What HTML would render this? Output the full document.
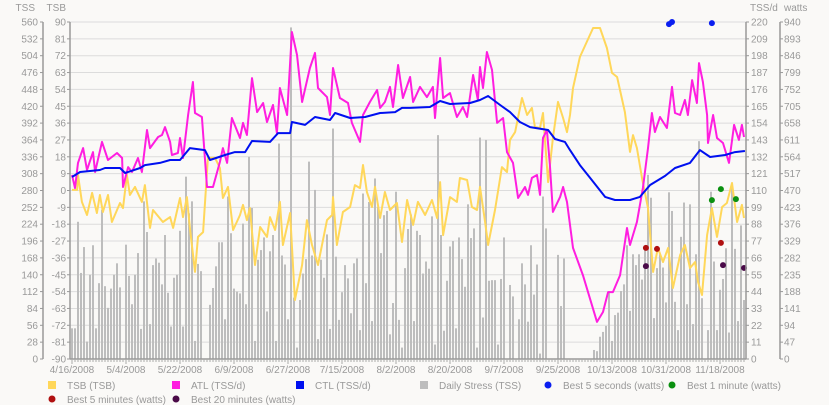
<!DOCTYPE html>
<html><head><meta charset="utf-8"><style>
html,body{margin:0;padding:0;background:#faf9f7;}
svg{display:block;font-family:"Liberation Sans",sans-serif;}
</style></head><body>
<svg id="chart" width="829" height="405">
<g id="grid"></g>
<g id="bars"></g>
<g id="lines"></g>
<g id="dots"></g>
<g id="axes"></g>
<g id="legend"></g>
</svg>
<script>
const dateLabels=["4/16/2008","5/4/2008","5/22/2008","6/9/2008","6/27/2008","7/15/2008","8/2/2008","8/20/2008","9/7/2008","9/25/2008","10/13/2008","10/31/2008","11/18/2008"];
const tssTicks=[0,28,56,84,112,140,168,196,224,252,280,308,336,364,392,420,448,476,504,532,560];
const tsbTicks=[-90,-81,-72,-63,-54,-45,-36,-27,-18,-9,0,9,18,27,36,45,54,63,72,81,90];
const tssdTicks=[0,11,22,33,44,55,66,77,88,99,110,121,132,143,154,165,176,187,198,209,220];
const wattTicks=[0,47,94,141,188,235,282,329,376,423,470,517,564,611,658,705,752,799,846,893,940];
const dailyStress=[51,51,228,143,186,29,140,189,51,126,248,121,85,117,140,159,119,0,190,138,91,140,176,50,262,211,58,156,167,160,124,206,110,54,135,140,213,54,303,242,262,30,158,146,0,0,90,118,154,194,194,66,270,209,117,112,
109,225,91,336,251,30,165,181,202,79,179,206,30,358,172,157,66,551,102,19,98,142,166,328,172,281,33,165,135,207,50,383,170,65,111,156,134,76,159,167,48,275,126,261,63,300,253,176,239,246,41,93,278,65,19,151,216,
240,63,213,206,142,162,150,237,24,372,206,47,130,187,196,51,202,166,120,257,201,217,19,368,69,364,130,131,131,24,133,202,0,123,104,0,66,159,124,62,189,107,157,9,270,217,0,0,0,173,88,167,0,0,0,0,0,0,0,0,0,
15,13,37,45,55,113,30,73,77,113,124,189,80,174,156,174,132,187,306,268,68,151,174,152,94,277,246,95,48,203,260,91,257,58,174,362,101,0,48,278,162,48,115,133,184,44,286,183,63,222,98];
const tsbDays=[0,1.7,2,3.3,5,6.7,8.3,9.3,10.3,12,13.3,16,17,18.3,19.3,21,23.3,24.3,26,27,30.3,32.7,33.7,36,37,38.3,39.3,41,42,43.7,45.3,47.7,49.3,50.3,52,53.7,56,57,58.3,59.3,61,62.7,65,66,67.7,69.3,70.3,72.7,74.3,76.7,78.3,80,82,85,86.7,87,88.3,90.3,92.7,94.3,96,97,98.3,100,101,102.7,104.3,106,108.3,110,111.7,113.7,115.3,117.7,120,121.7,122.7,123.7,126,128.3,129.3,131.7,133.3,135,136,137.7,138.7,141,143.3,145,146,147.7,150,151.7,153.3,154.3,156,157,158.7,160.3,162,163.7,165,166,167,169.3,173.7,176,178.3,180,181.7,184.3,186,187,188.3,190,192,193.7,195.3,197,198.7,200.3,202.7,204.3,206,207.7,208.7,210,211.7,213.3,215,216.7,218.3,220,221.7,223.3,224];
const tsbVals=[0.3,0.3,8.3,-6.1,-13.1,-1.3,-12,-2.4,-11.5,-2.4,-16.8,-6.7,-9.4,8.3,-2.4,1.9,-6.1,2.9,-20,-10.4,-16.8,-14.2,-20,-4,-14.2,-3.5,-20,-43.5,-24.8,-22.2,17.4,17.4,12,-4,1.9,-21.1,-13.1,-7.7,-15.8,-9.4,-39.8,-19.5,-24.8,-14.2,-21.1,-6.1,-29.1,-12,-58.5,-39.8,-15.8,-29.1,-39.8,-15.8,-13.1,-3.5,-29.1,-11.5,-8.8,2.9,1.3,13.6,-0.8,-8.8,1.9,-14.7,-0.8,-10.4,-6.7,-27.5,-5.1,-18.4,-6.1,-13.1,-5.1,-14.7,4.5,-23.8,-3.5,-6.1,6.7,5.6,-8.8,-10.4,1.9,-16.8,-29.1,-10.4,12.5,9.9,27,31.2,49.4,40.3,44.1,33.9,33.4,41.4,4.5,28,47.3,38.7,31.2,40.3,54.7,71.3,86.8,86.8,76.1,62.8,60.6,41.9,20.6,29.6,22.7,6.7,-9.4,-43.5,-30.7,-38.2,-30.7,-52.1,-34.5,-29.1,-41.4,-38.2,-48.9,-55.8,-23.8,-9.4,-24.8,-8.8,-6.7,4,-16.8,-7.7,-14.7];
const atlDays=[0,1,2,3.7,5,7,7.7,10,12,15,16.7,17,18.7,20,22,23.3,25,26,28.7,30,31,32.7,33.3,35.3,36,37,38.7,40.3,41,43.3,45,47,49.3,50.3,51.7,53.3,56,57,58.3,60,61.7,63.7,65,67,68.3,69.3,71.7,73.3,75,76.7,79.3,81,82,85,86,87,89.3,92,93.3,96,97,99.3,101.7,102.7,104.3,106,107,108.7,110.3,112.7,113.7,116,118.3,120.3,121,122.7,123.7,126,128.3,130.3,131.7,133.7,135.3,136,137,138.3,140,141.7,143.7,145,147,148.7,151,152,153.3,155,156,157,158.3,159.3,160.3,162.7,163.7,165,167,170.3,175,177,178.7,180.3,182.7,185,186,188.3,190.3,192,193.3,194.3,196,198.3,200,201,202.7,204.3,205.3,206.7,208.3,209,210.3,211.7,212,213.7,215,217,219,220.7,222.3,223.3,224];
const atlVals=[120.1,111.6,128,137.7,123.4,135.1,122.1,141.7,129.9,134.5,131.2,112.3,125.3,122.1,131.2,122.1,149.5,137.7,144.9,146.2,151.4,141.7,133.2,134.5,144.3,131.2,159.3,180.8,160.6,158,112.3,112.3,128.6,137.7,128,157.3,144.3,154.1,146.2,183.4,161.2,167.1,154.7,165.8,147.5,176.9,159.3,213.5,198.5,167.8,190,199.8,176.9,171,159.3,190,170.4,167.1,154.1,141.7,159.3,167.8,175.6,163.9,167.8,177.6,164.5,191.9,170.4,184.1,167.8,177.6,171,177.6,157.3,196.5,170.4,173.6,158,164.5,158,185.4,169.1,190.6,176.9,200.4,188.7,154.1,157.3,135.1,128,105.1,112.3,107.1,118.2,120.1,107.1,144.3,149.5,126.6,96,105.8,112.3,102.5,72.5,54.8,24.2,30.7,43.7,43.7,54.8,85.5,74.4,89.4,111.6,137.7,160.6,148.2,158,150.8,177.6,160.6,159.3,169.1,159.3,182.1,167.1,193.2,180.8,159.3,141,159.3,144.3,141,128,152.8,143,152.8,144.9];
const ctlDays=[0,2.7,9.3,11,16,17.7,22.7,24.3,29.3,32.7,36,39.3,44.3,46,51,54.3,57.7,60,66,68.7,72.7,73.3,77.7,81,86,87.7,92.7,97.7,102.7,107.7,110,112.7,119.3,122.7,126,132.7,136,138.7,142.7,146,149.3,152.7,158.7,161,164.3,166,169.3,172.7,177.7,181,186,189.3,192.7,197.7,201,206,209.3,212.7,217.7,221,224.3];
const ctlVals=[118.8,122.1,123.4,124.7,124.7,121.4,124.7,126.6,128,129.9,129.9,137.7,136.4,129.9,133.2,135.1,135.1,142.3,141.7,147.5,147.5,154.7,152.8,158,156,160.6,157.3,158,160.6,161.2,163.9,163.9,164.5,168.4,166.5,167.1,169.1,171.7,165.8,161.2,154.7,151.4,149.5,143.6,141.7,136.4,126.6,118.2,105.8,103.8,103.8,105.8,113.6,119.5,124.7,128,136.4,131.9,133.2,135.1,135.8];
const best5sDays=[199,200,213.3], best5sVals=[934,940,937];
const best1mDays=[213.3,216.3,221.3], best1mVals=[443,474,446];
const best5mDays=[191.3,195,216.3], best5mVals=[310,307,324];
const best20mDays=[191.3,217,224], best20mVals=[259,262,254];

const NS="http://www.w3.org/2000/svg";
const X0=72, DX=3, YT=22, YB=359, PL=70, PR=746;
const xs=d=>X0+d*DX;
const yTSS=v=>YB-v/560*(YB-YT);
const yTSB=v=>YB-(v+90)/180*(YB-YT);
const yTSSd=v=>YB-v/220*(YB-YT);
const yW=v=>YB-v/940*(YB-YT);
function mk(tag,attrs,parent){const e=document.createElementNS(NS,tag);for(const k in attrs)e.setAttribute(k,attrs[k]);parent.appendChild(e);return e;}
const G=id=>document.getElementById(id);
const LBL="#999";
// grid
tsbTicks.forEach((t,i)=>{const y=yTSB(t);
 const l=mk('line',{x1:PL,x2:PR,y1:y,y2:y,stroke:'#dcdcdc','stroke-width':1},G('grid'));
 
 });
// bars
dailyStress.forEach((v,d)=>{if(v<=0)return;
 const r=mk('rect',{x:xs(d)-1,y:yTSS(v),width:2,height:YB-yTSS(v),fill:'#bdbdbd'},G('bars'));
 
 });
// lines
function line(days,vals,fy,col,name){const pts=days.map((d,i)=>xs(d).toFixed(1)+','+fy(vals[i]).toFixed(1)).join(' ');
 const p=mk('polyline',{points:pts,fill:'none',stroke:col,'stroke-width':2,'stroke-linejoin':'round'},G('lines'));
 
 }
line(tsbDays,tsbVals,yTSB,'#ffd75a','tsb-line');
line(atlDays,atlVals,yTSSd,'#ff1ee0','atl-line');
line(ctlDays,ctlVals,yTSSd,'#0010f0','ctl-line');
function dots(days,vals,col,name){days.forEach((d,i)=>{const c=mk('circle',{cx:xs(d),cy:yW(vals[i]),r:3,fill:col},G('dots'));
 
 });}
dots(best5sDays,best5sVals,'#0a1ef0','best-5-seconds-dot');
dots(best1mDays,best1mVals,'#0a9010','best-1-minute-dot');
dots(best5mDays,best5mVals,'#b01010','best-5-minutes-dot');
dots(best20mDays,best20mVals,'#4a0a48','best-20-minutes-dot');
// axes
const ax=G('axes');
function txt(x,y,s,anchor,name){const t=mk('text',{x:x,y:y,'font-size':10,fill:LBL,'text-anchor':anchor},ax);t.textContent=s;
 
 return t;}
[[43,'tss'],[PL,'tsb'],[PR,'tss-per-day'],[780,'watts']].forEach(([x,n])=>{const l=mk('line',{x1:x,x2:x,y1:YT,y2:YB,stroke:'#999','stroke-width':1.5},ax);
 
 });
const bl=mk('line',{x1:PL,x2:PR,y1:YB,y2:YB,stroke:'#999','stroke-width':1.5},ax);


tssTicks.forEach(t=>{const y=yTSS(t);mk('line',{x1:40,x2:43,y1:y,y2:y,stroke:'#999'},ax);txt(38,y+3.5,String(t),'end','tss-tick-label');});
tsbTicks.forEach(t=>{const y=yTSB(t);mk('line',{x1:67,x2:70,y1:y,y2:y,stroke:'#999'},ax);txt(66,y+3.5,String(t),'end','tsb-tick-label');});
tssdTicks.forEach(t=>{const y=yTSSd(t);mk('line',{x1:746,x2:749,y1:y,y2:y,stroke:'#999'},ax);txt(751,y+3.5,String(t),'start','tss-per-day-tick-label');});
wattTicks.forEach(t=>{const y=yW(t);mk('line',{x1:780,x2:783,y1:y,y2:y,stroke:'#999'},ax);txt(784,y+3.5,String(t),'start','watts-tick-label');});
for(let d=0;d<=224;d++){const major=d%18===0;mk('line',{x1:xs(d),x2:xs(d),y1:YB,y2:YB+(major?5:3),stroke:'#aaa','stroke-width':1},ax);}
dateLabels.forEach((s,i)=>txt(xs(i*18),373,s,'middle','date-tick-label'));
txt(35,11,'TSS','end','tss-axis-title');
txt(66,11,'TSB','end','tsb-axis-title');
txt(750,11,'TSS/d','start','tss-per-day-axis-title');
txt(784,11,'watts','start','watts-axis-title');
// legend
const lg=G('legend');
const items=[['sq','#ffd75a','TSB (TSB)',48,381],['sq','#ff1ee0','ATL (TSS/d)',172,381],['sq','#0010f0','CTL (TSS/d)',296,381],['sq','#bdbdbd','Daily Stress (TSS)',420,381],['c','#0a1ef0','Best 5 seconds (watts)',544,381],['c','#0a9010','Best 1 minute (watts)',668,381],['c','#b01010','Best 5 minutes (watts)',48,395],['c','#4a0a48','Best 20 minutes (watts)',172,395]];
items.forEach(([k,col,label,x,y])=>{const g=mk('g',{},lg);
 
 
 if(k==='sq')mk('rect',{x:x,y:y,width:8,height:8,fill:col},g);else mk('circle',{cx:x+4,cy:y+4,r:3.5,fill:col},g);
 const t=mk('text',{x:x+19,y:y+8,'font-size':10,fill:LBL},g);t.textContent=label;});
</script>
</body></html>
